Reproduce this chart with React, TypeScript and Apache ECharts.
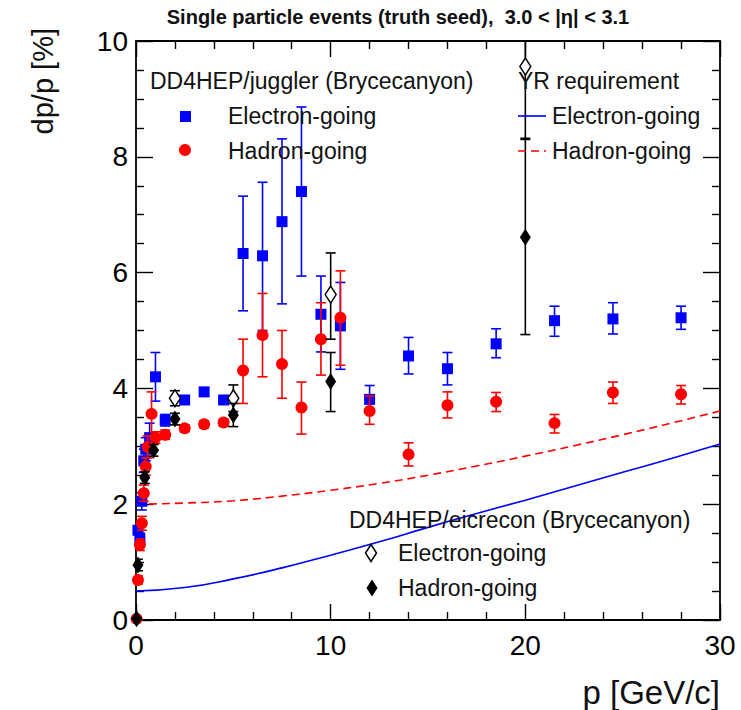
import React, { useEffect, useRef } from 'react';
import * as echarts from 'echarts';

// DD4HEP/juggler (Brycecanyon) – Electron-going (blue squares)
const jugElecP = [0.1, 0.2, 0.3, 0.4, 0.5, 0.7, 1.0, 1.5, 2.5, 3.5, 4.5, 5.5, 6.5, 7.5, 8.5, 9.5, 10.5, 12, 14, 16, 18.5, 21.5, 24.5, 28];
const jugElecV = [1.55, 1.40, 2.05, 2.75, 2.95, 3.15, 4.20, 3.45, 3.80, 3.94, 3.80, 6.33, 6.29, 6.88, 7.40, 5.28, 5.08, 3.81, 4.56, 4.34, 4.77, 5.17, 5.20, 5.22];
const jugElecLo = [1.43, 1.30, 1.90, 2.55, 2.75, 2.90, 3.78, 3.35, 3.74, 3.88, 3.74, 5.34, 5.00, 5.46, 5.94, 4.63, 4.33, 3.57, 4.25, 4.06, 4.53, 4.90, 4.94, 5.02];
const jugElecHi = [1.67, 1.50, 2.20, 2.95, 3.15, 3.40, 4.62, 3.55, 3.86, 4.00, 3.86, 7.32, 7.56, 8.31, 8.86, 5.94, 5.83, 4.05, 4.88, 4.62, 5.03, 5.42, 5.48, 5.42];

// DD4HEP/juggler (Brycecanyon) – Hadron-going (red circles)
const jugHadP = [0.03, 0.1, 0.2, 0.3, 0.4, 0.5, 0.6, 0.8, 1.0, 1.5, 2.5, 3.5, 4.5, 5.5, 6.5, 7.5, 8.5, 9.5, 10.5, 12, 14, 16, 18.5, 21.5, 24.5, 28];
const jugHadV = [0.02, 0.69, 1.30, 1.67, 2.19, 2.65, 2.99, 3.56, 3.15, 3.20, 3.31, 3.38, 3.41, 4.31, 4.92, 4.42, 3.67, 4.85, 5.22, 3.61, 2.86, 3.71, 3.77, 3.40, 3.93, 3.90];
const jugHadLo = [0.0, 0.62, 1.20, 1.55, 2.05, 2.50, 2.80, 3.18, 3.05, 3.12, 3.25, 3.32, 3.35, 3.74, 4.20, 3.83, 3.21, 4.23, 4.40, 3.38, 2.66, 3.49, 3.60, 3.23, 3.74, 3.73];
const jugHadHi = [0.04, 0.76, 1.40, 1.79, 2.33, 2.80, 3.18, 3.94, 3.25, 3.28, 3.37, 3.44, 3.47, 4.85, 5.64, 5.00, 4.11, 5.48, 6.03, 3.87, 3.06, 3.94, 3.93, 3.55, 4.11, 4.05];

// DD4HEP/eicrecon (Brycecanyon) – Electron-going (open diamonds)
const eicElecP = [2, 5, 10, 20];
const eicElecV = [3.83, 3.83, 5.62, 9.56];
const eicElecLo = [3.70, 3.60, 4.85, 8.32];
const eicElecHi = [3.96, 4.06, 6.34, 10.8];

// DD4HEP/eicrecon (Brycecanyon) – Hadron-going (filled diamonds)
const eicHadP = [0.03, 0.1, 0.45, 0.9, 2, 5, 10, 20];
const eicHadV = [0.02, 0.95, 2.46, 2.93, 3.47, 3.54, 4.12, 6.61];
const eicHadLo = [0.0, 0.85, 2.36, 2.83, 3.37, 3.34, 3.60, 4.93];
const eicHadHi = [0.04, 1.05, 2.56, 3.03, 3.57, 3.74, 4.62, 8.30];

// YR requirement curves
const yrP = [0, 2.5, 5, 7.5, 10, 12.5, 15, 17.5, 20, 22.5, 25, 27.5, 30];
const yrElec = [0.50, 0.56, 0.71, 0.90, 1.12, 1.35, 1.60, 1.84, 2.07, 2.31, 2.55, 2.79, 3.04];
const yrHad = [2.00, 2.02, 2.06, 2.14, 2.24, 2.36, 2.50, 2.66, 2.83, 3.01, 3.20, 3.40, 3.61];

const X_MIN = 0, X_MAX = 30, Y_MIN = 0, Y_MAX = 10;
const FONT = '"Liberation Sans", Arial, Helvetica, sans-serif';
const BLUE = '#0000ff';
const RED = '#ff0000';
const BLACK = '#000000';

function errSeries(name: string, p: number[], lo: number[], hi: number[], color: string, z: number) {
  return {
    type: 'custom',
    name,
    z,
    clip: true,
    silent: true,
    data: p.map((x, i) => [x, lo[i], hi[i]]),
    encode: { x: 0, y: [1, 2] },
    renderItem: (params: any, api: any) => {
      const x = api.value(0);
      const l = api.value(1);
      const h = api.value(2);
      const hc = Math.min(h, Y_MAX);
      const a = api.coord([x, hc]);
      const b = api.coord([x, l]);
      const w = 5;
      const st = { stroke: color, lineWidth: 1.6 };
      const children: any[] = [
        { type: 'line', shape: { x1: a[0], y1: a[1], x2: b[0], y2: b[1] }, style: st },
        { type: 'line', shape: { x1: b[0] - w, y1: b[1], x2: b[0] + w, y2: b[1] }, style: st },
      ];
      if (h <= Y_MAX) {
        children.push({ type: 'line', shape: { x1: a[0] - w, y1: a[1], x2: a[0] + w, y2: a[1] }, style: st });
      }
      return { type: 'group', children };
    },
  };
}

function pts(p: number[], v: number[]) {
  return p.map((x, i) => [x, v[i]]);
}

function makeX(position: 'bottom' | 'top', showLabel: boolean) {
  return {
    type: 'value',
    position,
    min: X_MIN,
    max: X_MAX,
    interval: 10,
    axisLine: { show: true, onZero: false, lineStyle: { color: BLACK, width: 1.8 } },
    axisTick: { show: true, inside: true, length: 16, lineStyle: { color: BLACK, width: 1.4 } },
    minorTick: { show: true, splitNumber: 5, length: 8, lineStyle: { color: BLACK, width: 1.4 } },
    splitLine: { show: false },
    minorSplitLine: { show: false },
    axisLabel: { show: showLabel, fontSize: 28, color: BLACK, fontFamily: FONT, margin: 11 },
  };
}

function makeY(position: 'left' | 'right', showLabel: boolean) {
  return {
    type: 'value',
    position,
    min: Y_MIN,
    max: Y_MAX,
    interval: 2,
    axisLine: { show: true, onZero: false, lineStyle: { color: BLACK, width: 1.8 } },
    axisTick: { show: true, inside: true, length: 17, lineStyle: { color: BLACK, width: 1.4 } },
    minorTick: { show: true, splitNumber: 4, length: 8, lineStyle: { color: BLACK, width: 1.4 } },
    splitLine: { show: false },
    minorSplitLine: { show: false },
    axisLabel: { show: showLabel, fontSize: 28, color: BLACK, fontFamily: FONT, margin: 8 },
  };
}

function diamondPts(cx: number, cy: number, w: number, h: number) {
  return [[cx, cy - h / 2], [cx + w / 2, cy], [cx, cy + h / 2], [cx - w / 2, cy]];
}

const legendText = (x: number, y: number, text: string) => ({
  type: 'text',
  x,
  y,
  style: { text, fontSize: 23, fontFamily: FONT, fill: '#111', textAlign: 'left', textVerticalAlign: 'middle' },
  z: 100,
});

export default function App() {
  const ref = useRef<HTMLDivElement>(null);
  useEffect(() => {
    if (!ref.current) return;
    const chart = echarts.init(ref.current, null, { renderer: 'svg' });
    const option: any = {
      animation: false,
      backgroundColor: '#ffffff',
      grid: { left: 136, top: 41, width: 584, height: 579, containLabel: false },
      xAxis: [makeX('bottom', true), makeX('top', false)],
      yAxis: [makeY('left', true), makeY('right', false)],
      series: [
        {
          type: 'line', name: 'YR Electron-going', data: pts(yrP, yrElec), smooth: true, showSymbol: false,
          lineStyle: { color: BLUE, width: 1.6 }, z: 1, silent: true,
        },
        {
          type: 'line', name: 'YR Hadron-going', data: pts(yrP, yrHad), smooth: true, showSymbol: false,
          lineStyle: { color: RED, width: 1.6, type: [8, 5] }, z: 1, silent: true,
        },
        errSeries('jug elec err', jugElecP, jugElecLo, jugElecHi, BLUE, 2),
        {
          type: 'scatter', name: 'Juggler Electron-going', data: pts(jugElecP, jugElecV), symbol: 'rect', symbolSize: 11,
          itemStyle: { color: BLUE, opacity: 1 }, z: 3, silent: true,
        },
        errSeries('jug had err', jugHadP, jugHadLo, jugHadHi, RED, 4),
        {
          type: 'scatter', name: 'Juggler Hadron-going', data: pts(jugHadP, jugHadV), symbol: 'circle', symbolSize: 12,
          itemStyle: { color: RED, opacity: 1 }, z: 5, silent: true,
        },
        errSeries('eic elec err', eicElecP, eicElecLo, eicElecHi, BLACK, 6),
        {
          type: 'scatter', name: 'Eicrecon Electron-going', data: pts(eicElecP, eicElecV), symbol: 'diamond', symbolSize: [11, 17],
          itemStyle: { color: '#ffffff', borderColor: BLACK, borderWidth: 1.5, opacity: 1 }, z: 7, silent: true,
        },
        errSeries('eic had err', eicHadP, eicHadLo, eicHadHi, BLACK, 8),
        {
          type: 'scatter', name: 'Eicrecon Hadron-going', data: pts(eicHadP, eicHadV), symbol: 'diamond', symbolSize: [11, 17],
          itemStyle: { color: BLACK, opacity: 1 }, z: 9, silent: true,
        },
      ],
      graphic: [
        {
          type: 'text', x: 398, y: 17,
          style: {
            text: 'Single particle events (truth seed),  3.0 < |η| < 3.1', fontSize: 20, fontWeight: 'bold',
            fontFamily: FONT, fill: '#111', textAlign: 'center', textVerticalAlign: 'middle',
          },
        },
        {
          type: 'text', x: 43, y: 28, rotation: Math.PI / 2,
          style: { text: 'dp/p [%]', fontSize: 29, fontFamily: FONT, fill: '#111', textAlign: 'right', textVerticalAlign: 'middle' },
        },
        {
          type: 'text', x: 720, y: 692,
          style: { text: 'p [GeV/c]', fontSize: 33, fontFamily: FONT, fill: '#111', textAlign: 'right', textVerticalAlign: 'middle' },
        },
        // juggler legend
        legendText(150, 81, 'DD4HEP/juggler (Brycecanyon)'),
        { type: 'rect', shape: { x: 180, y: 111, width: 11, height: 11 }, style: { fill: BLUE }, z: 100 },
        legendText(228, 116, 'Electron-going'),
        { type: 'circle', shape: { cx: 185, cy: 150, r: 6 }, style: { fill: RED }, z: 100 },
        legendText(228, 151, 'Hadron-going'),
        // YR legend
        legendText(518, 81, 'YR requirement'),
        { type: 'line', shape: { x1: 518, y1: 116, x2: 546, y2: 116 }, style: { stroke: BLUE, lineWidth: 1.6 }, z: 100 },
        legendText(552, 116, 'Electron-going'),
        { type: 'line', shape: { x1: 518, y1: 151, x2: 546, y2: 151 }, style: { stroke: RED, lineWidth: 1.6, lineDash: [8, 5] }, z: 100 },
        legendText(552, 151, 'Hadron-going'),
        // eicrecon legend
        legendText(349, 520, 'DD4HEP/eicrecon (Brycecanyon)'),
        { type: 'polygon', shape: { points: diamondPts(371, 553, 11, 17) }, style: { fill: '#fff', stroke: BLACK, lineWidth: 1.5 }, z: 100 },
        legendText(398, 553, 'Electron-going'),
        { type: 'polygon', shape: { points: diamondPts(372, 588, 11, 17) }, style: { fill: BLACK }, z: 100 },
        legendText(398, 588, 'Hadron-going'),
      ],
    };
    chart.setOption(option);
    return () => chart.dispose();
  }, []);
  return (
    <div
      ref={ref}
      style={{ position: 'fixed', left: 0, top: 0, width: 741, height: 710, background: '#fff' }}
    />
  );
}
